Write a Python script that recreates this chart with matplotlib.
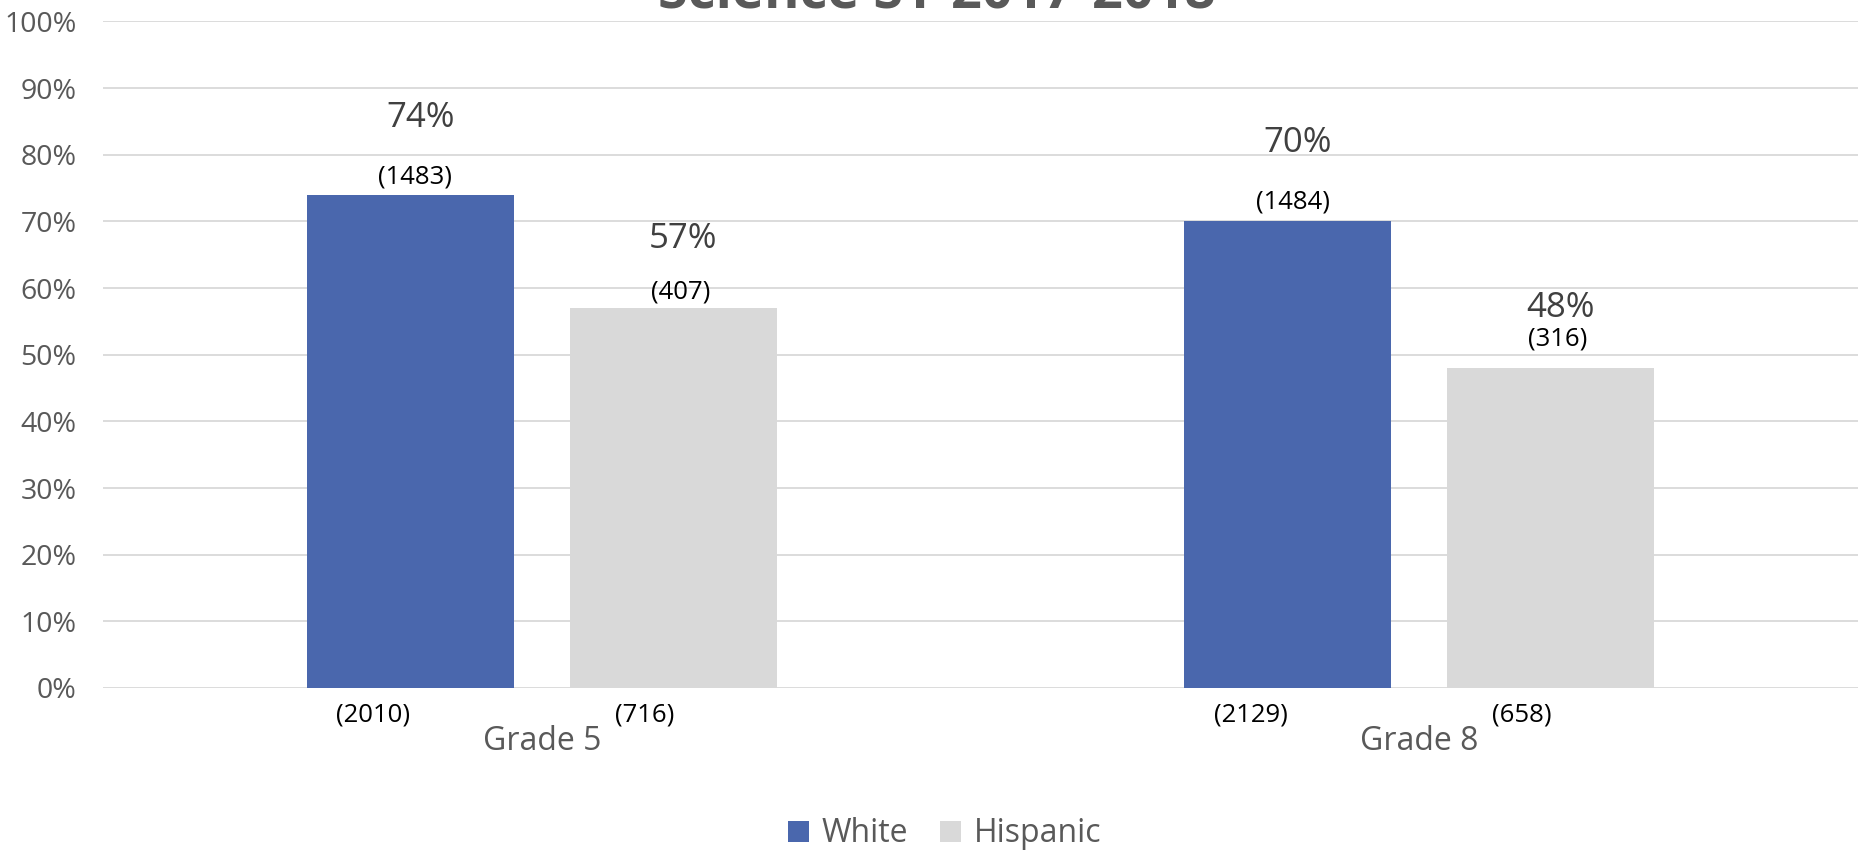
import matplotlib
matplotlib.use("Agg")
import matplotlib.pyplot as plt
from matplotlib.patches import Patch
import numpy as np

# ---- data ----
title = "Science SY 2017-2018"
categories = ["Grade 5", "Grade 8"]
series_names = ["White", "Hispanic"]
white_pct = [74, 70]
hispanic_pct = [57, 48]
white_proficient_n = ["(1483)", "(1484)"]
hispanic_proficient_n = ["(407)", "(316)"]
white_total_n = ["(2010)", "(2129)"]
hispanic_total_n = ["(716)", "(658)"]
yticks = [0, 10, 20, 30, 40, 50, 60, 70, 80, 90, 100]

# ---- style ----
plt.rcParams['font.family'] = ['Open Sans', 'DejaVu Sans']
BLUE = "#4A67AD"
GREY = "#D9D9D9"
TXT = "#595959"
LBL = "#404040"

W, H = 1864, 852
fig = plt.figure(figsize=(W / 100, H / 100), dpi=100)
ax = fig.add_axes([103 / W, 1 - 688 / H, (1858 - 103) / W, (688 - 21.4) / H])

x = np.arange(len(categories))
bw = 0.236
off = 0.15
ax.bar(x - off, white_pct, bw, color=BLUE, zorder=3)
ax.bar(x + off, hispanic_pct, bw, color=GREY, zorder=3)

ax.set_xlim(-0.5, len(categories) - 0.5)
ax.set_ylim(0, 100)
ax.set_yticks(yticks)
ax.set_yticklabels([f"{t}%" for t in yticks], fontsize=20.5, color=TXT)
ax.tick_params(axis='y', length=0, pad=19)
ax.set_xticks([])
ax.grid(axis='y', color=GREY, linewidth=1.3, zorder=0)
for s in ax.spines.values():
    s.set_visible(False)

PT = 0.72  # px -> pt at dpi 100
# label offsets in pixels above the bar top (pct label, count label)
pct_dy = [[77, 78], [69, 60]]
cnt_dy = [[18, 19], [16, 29]]
pct_dx = [10, 10]
cnt_dx = [5, 7]

for si, (vals, cnts) in enumerate([(white_pct, white_proficient_n),
                                   (hispanic_pct, hispanic_proficient_n)]):
    sx = -off if si == 0 else off
    for ci in range(len(categories)):
        ax.annotate(f"{vals[ci]}%", (x[ci] + sx, vals[ci]),
                    xytext=(pct_dx[si] * PT, pct_dy[si][ci] * PT),
                    textcoords='offset points', ha='center', va='center',
                    fontsize=25, color=LBL)
        ax.annotate(cnts[ci], (x[ci] + sx, vals[ci]),
                    xytext=(cnt_dx[si] * PT, cnt_dy[si][ci] * PT),
                    textcoords='offset points', ha='center', va='center',
                    fontsize=18.5, color='black')

# totals under bars and category labels
for ci in range(len(categories)):
    ax.annotate(white_total_n[ci], (x[ci] - off, 0), xytext=(-37 * PT, -27 * PT),
                textcoords='offset points', ha='center', va='center',
                fontsize=18.5, color='black')
    ax.annotate(hispanic_total_n[ci], (x[ci] + off, 0), xytext=(-29 * PT, -27 * PT),
                textcoords='offset points', ha='center', va='center',
                fontsize=18.5, color='black')
    ax.annotate(categories[ci], (x[ci], 0), xytext=(0, -53 * PT),
                textcoords='offset points', ha='center', va='center',
                fontsize=23, color=TXT)

# title (cut off at top as in reference)
fig.text(937 / W, 1 - 8 / H, title, ha='center', va='baseline',
         fontsize=39, fontweight='bold', color=TXT)

handles = [Patch(facecolor=BLUE, edgecolor='none'), Patch(facecolor=GREY, edgecolor='none')]
fig.legend(handles, series_names, loc='center', bbox_to_anchor=(945 / W, 1 - 834 / H),
           ncol=2, frameon=False, fontsize=23, labelcolor=TXT,
           handlelength=0.65, handleheight=0.65, handletextpad=0.4, columnspacing=1.0)

fig.savefig("out.png", dpi=100)
